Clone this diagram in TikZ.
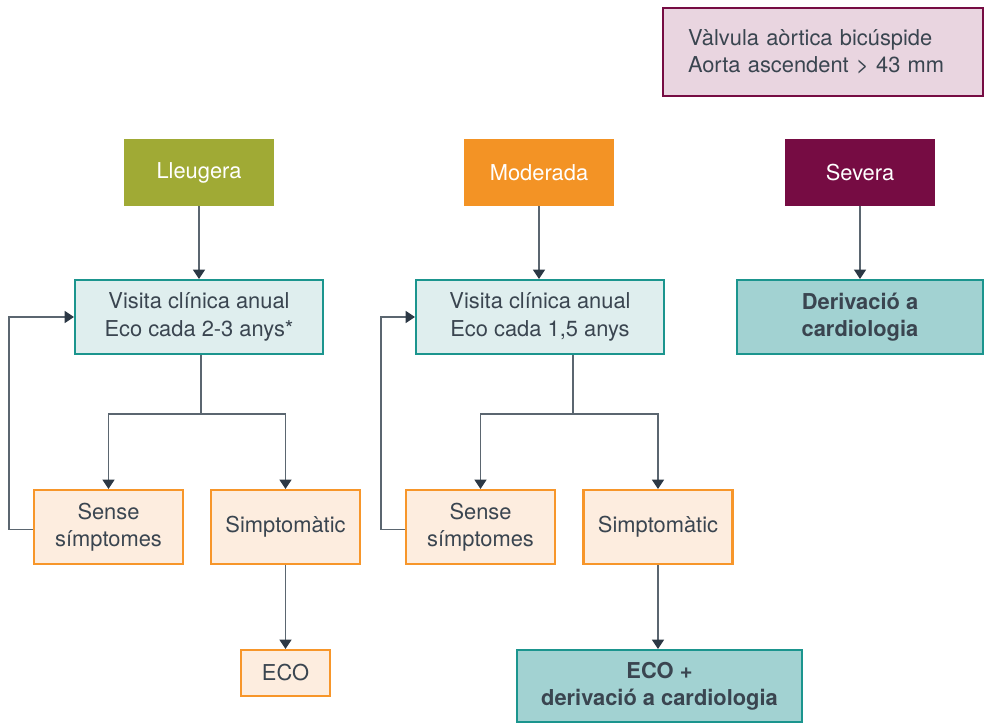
\documentclass[tikz,border=0pt]{standalone}
\usepackage{fontspec}
\setmainfont{TeX Gyre Heros}
\usetikzlibrary{arrows.meta}
\definecolor{txt}{HTML}{3A4550}
\definecolor{linec}{HTML}{5B6670}
\definecolor{tipc}{HTML}{2C3845}
\definecolor{olive}{HTML}{A0AA35}
\definecolor{orng}{HTML}{F39325}
\definecolor{maroon}{HTML}{760C43}
\definecolor{pinkf}{HTML}{E9D5E0}
\definecolor{tealb}{HTML}{1B958E}
\definecolor{tealf}{HTML}{DFEEEE}
\definecolor{tealdark}{HTML}{A2D2D2}
\definecolor{orf}{HTML}{FDEDDF}
\definecolor{orb}{HTML}{F7962A}
\tikzset{
  base/.style={rectangle, inner sep=0pt, align=center, text=txt, font=\fontsize{16.4}{20.5}\selectfont},
  head/.style={base, minimum width=112.5pt, minimum height=50.25pt, text=white},
  visit/.style={base, draw=tealb, fill=tealf, line width=1.6pt, minimum width=186pt, minimum height=55.5pt},
  refer/.style={base, draw=tealb, fill=tealdark, line width=1.6pt, font=\fontsize{16.4}{20.5}\selectfont\bfseries},
  sympt/.style={base, draw=orb, fill=orf, line width=1.6pt, minimum width=111.75pt, minimum height=55.5pt},
  arr/.style={draw=linec, line width=1.1pt, -{Triangle[width=9pt,length=7pt,color=tipc,fill=tipc]}},
  plain/.style={draw=linec, line width=1.1pt}
}
\begin{document}
\begin{tikzpicture}[x=0.75pt,y=-0.75pt]
\useasboundingbox (0,0) rectangle (984,724);
\node[base, draw=maroon, fill=pinkf, line width=1.6pt, minimum width=240pt, minimum height=66pt, text width=202.5pt, inner xsep=18.75pt, align=left] (cond) at (823,52) {Vàlvula aòrtica bicúspide\\Aorta ascendent > 43 mm};
\node[head, fill=olive] (lle) at (199,172.5) {Lleugera};
\node[head, fill=orng] (mod) at (539,172.5) {Moderada};
\node[head, fill=maroon] (sev) at (860,172.5) {Severa};
\node[visit] (v1) at (199,317) {Visita clínica anual\\Eco cada 2-3 anys*};
\node[visit] (v2) at (540,317) {Visita clínica anual\\Eco cada 1,5 anys};
\node[refer, minimum width=184.5pt, minimum height=55.5pt] (der) at (860,317) {Derivació a\\cardiologia};
\node[sympt] (s1) at (108.5,527) {Sense\\símptomes};
\node[sympt] (p1) at (285.5,527) {Simptomàtic};
\node[sympt, minimum width=66.75pt, minimum height=34.5pt] (e1) at (285.5,673) {ECO};
\node[sympt] (s2) at (480.5,527) {Sense\\símptomes};
\node[sympt] (p2) at (658,527) {Simptomàtic};
\node[refer, minimum width=213.75pt, minimum height=54pt] (e2) at (659.5,686) {ECO +\\derivació a cardiologia};
% connectors
\draw[arr] (lle) -- (lle |- v1.north);
\draw[arr] (mod) -- (mod |- v2.north);
\draw[arr] (sev) -- (der);
\draw[plain] ([xshift=1.5pt]v1.south) -- ++(0,59) coordinate (j1);
\draw[arr] (j1) -| (s1.north);
\draw[arr] (j1) -| (p1.north);
\draw[plain] ([xshift=24.75pt]v2.south) -- ++(0,59) coordinate (j2);
\draw[arr] (j2) -| (s2.north);
\draw[arr] (j2) -| (p2.north);
\draw[arr] ([yshift=-2pt]s1.west) -- ++(-24,0) |- (v1.west);
\draw[arr] ([yshift=-2pt]s2.west) -- ++(-24,0) |- (v2.west);
\draw[arr] (p1) -- (e1);
\draw[arr] (p2.south) -- (p2.south |- e2.north);
\end{tikzpicture}
\end{document}
